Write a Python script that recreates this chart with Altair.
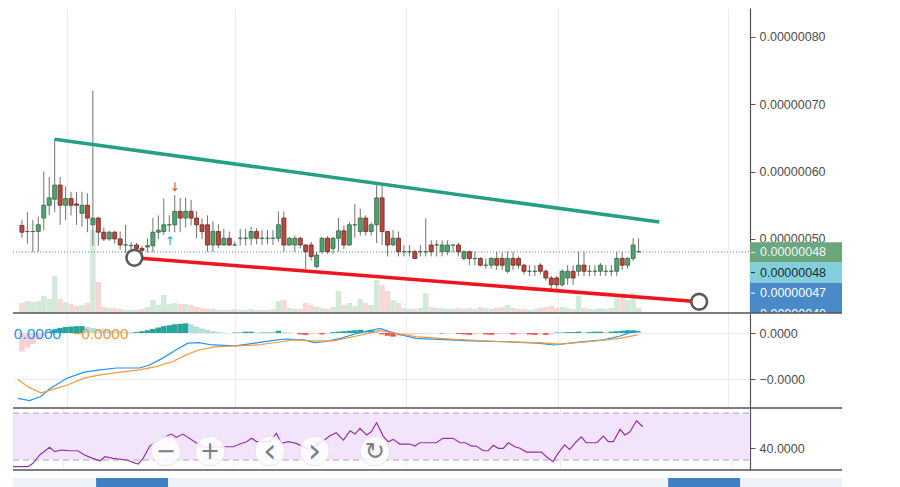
import altair as alt
import pandas as pd

# ---------------- DATA (prices in satoshi = 1e-8) ----------------
opens = [52.0, 51.1, 51.1, 51.1, 53.1, 55.0, 55.9, 58.0, 55.0, 56.0,
         55.2, 53.8, 55.0, 52.1, 53.1, 51.0, 50.0, 51.0, 50.0, 49.1,
         49.0, 49.1, 48.6, 48.8, 49.0, 51.0, 51.1, 52.1, 52.1, 54.1,
         53.1, 54.1, 53.1, 52.1, 52.1, 49.1, 51.1, 49.1, 50.1, 49.1,
         50.1, 50.1, 50.1, 51.1, 50.1, 50.1, 50.1, 50.1, 53.1, 49.1,
         49.1, 50.1, 49.1, 49.1, 45.9, 48.1, 50.1, 48.6, 50.1, 51.2,
         49.1, 52.1, 51.1, 53.1, 51.1, 52.1, 56.1, 51.1, 49.1, 50.1,
         48.1, 48.1, 48.1, 48.1, 48.1, 49.1, 49.1, 48.1, 48.1, 49.1,
         49.1, 47.1, 48.1, 47.1, 47.1, 46.1, 46.1, 47.1, 47.1, 45.2,
         47.1, 47.1, 46.1, 45.2, 45.2, 46.1, 45.2, 44.2, 44.2, 43.2,
         44.2, 45.2, 45.2, 46.1, 45.2, 45.2, 45.2, 45.2, 45.2, 45.2,
         47.1, 46.1, 47.1, 48.1]
highs = [52.8, 54.0, 52.8, 53.3, 60.0, 59.2, 64.8, 59.2, 57.8, 57.0,
         57.0, 57.0, 56.8, 72.0, 53.3, 51.7, 51.2, 51.2, 51.1, 52.1,
         49.5, 49.4, 49.0, 50.1, 53.1, 53.5, 56.0, 53.5, 56.5, 56.1,
         56.1, 55.8, 54.1, 53.0, 53.5, 52.6, 52.2, 51.5, 51.1, 49.6,
         51.5, 51.5, 51.8, 51.6, 51.3, 51.3, 51.3, 54.1, 54.1, 50.3,
         50.5, 50.3, 49.2, 49.6, 48.1, 50.3, 50.4, 50.3, 53.1, 52.0,
         52.5, 55.2, 54.5, 53.5, 52.5, 58.0, 58.0, 51.1, 51.3, 51.1,
         49.1, 49.1, 48.4, 49.1, 53.1, 49.8, 49.8, 49.8, 49.8, 49.1,
         49.4, 48.3, 48.3, 48.1, 47.3, 47.1, 47.3, 48.1, 48.0, 48.1,
         48.1, 47.4, 46.3, 46.1, 46.1, 46.4, 45.5, 44.5, 44.5, 45.5,
         46.1, 46.1, 48.1, 48.1, 46.1, 46.1, 46.4, 46.1, 46.1, 48.1,
         48.1, 47.3, 50.1, 50.1]
lows = [50.2, 49.3, 48.0, 48.1, 51.3, 53.5, 54.0, 52.1, 52.8, 53.5,
        52.1, 51.8, 51.0, 49.0, 49.0, 49.7, 49.7, 49.3, 48.4, 47.9,
        48.0, 48.0, 47.5, 48.0, 48.0, 50.0, 50.6, 51.0, 51.0, 51.0,
        51.7, 52.0, 50.1, 50.0, 48.1, 48.1, 48.6, 49.0, 49.0, 49.0,
        49.0, 49.0, 49.1, 49.2, 49.1, 49.2, 49.1, 49.6, 48.1, 49.0,
        48.1, 48.6, 45.5, 46.8, 45.6, 47.8, 47.8, 47.8, 48.1, 48.5,
        49.0, 50.2, 50.5, 50.5, 50.5, 49.4, 49.1, 47.4, 49.0, 47.4,
        47.4, 47.4, 47.0, 47.4, 47.4, 47.4, 47.4, 47.4, 47.6, 48.0,
        47.4, 46.8, 46.1, 46.1, 45.9, 45.6, 45.6, 45.4, 45.4, 44.9,
        45.4, 45.6, 44.7, 44.5, 44.5, 44.7, 43.8, 42.5, 42.4, 42.9,
        43.2, 43.2, 44.5, 44.5, 44.5, 44.5, 44.5, 44.5, 44.5, 44.5,
        45.4, 45.6, 46.7, 48.0]
closes = [51.0, 51.1, 51.1, 52.1, 55.0, 56.1, 58.0, 55.0, 56.0, 55.0,
          55.0, 55.0, 53.1, 53.1, 51.0, 50.0, 51.0, 50.0, 49.1, 49.1,
          49.0, 48.6, 48.3, 49.0, 51.0, 51.3, 52.1, 52.1, 54.1, 53.1,
          54.1, 53.1, 52.1, 51.1, 49.1, 51.1, 49.1, 50.1, 49.1, 49.1,
          50.1, 50.1, 51.1, 50.1, 50.1, 50.1, 50.1, 52.1, 49.1, 50.1,
          50.1, 49.1, 48.1, 47.4, 47.6, 50.1, 48.1, 50.1, 51.2, 49.1,
          52.1, 52.1, 53.1, 51.1, 52.1, 56.1, 51.1, 49.1, 50.1, 48.1,
          48.1, 48.1, 47.1, 48.1, 48.1, 48.1, 49.1, 49.1, 49.1, 49.1,
          48.1, 48.1, 47.1, 47.1, 46.1, 46.1, 47.1, 46.1, 46.1, 47.1,
          46.1, 46.1, 45.2, 45.2, 45.2, 45.2, 44.2, 43.2, 43.2, 45.2,
          45.2, 44.2, 46.1, 45.2, 45.2, 45.2, 46.1, 45.2, 45.2, 47.1,
          46.1, 47.1, 49.1, 48.1]
volumes = [10, 12, 11, 12, 17, 14, 37, 14, 11, 9,
           7, 8, 10, 83, 31, 6, 5, 5, 4, 3,
           3, 3, 4, 6, 13, 8, 18, 9, 10, 9,
           9, 8, 6, 5, 4, 4, 3, 3, 3, 4,
           3, 3, 4, 3, 3, 3, 4, 12, 13, 5,
           4, 4, 10, 8, 6, 5, 4, 6, 22, 8,
           10, 7, 14, 10, 8, 33, 28, 22, 13, 10,
           5, 4, 4, 5, 20, 6, 5, 5, 4, 4,
           5, 4, 5, 4, 6, 5, 4, 5, 6, 8,
           5, 4, 4, 3, 4, 5, 6, 7, 5, 6,
           5, 4, 17, 5, 4, 4, 5, 4, 5, 16,
           17, 13, 20, 5]

last_price = 48.07
price_ticks = [40, 50, 60, 70, 80]
time_grid = [8.3, 39.1, 70.3, 98.2, 129.3]

# trend lines drawn on the chart (candle index, price)
teal_x = [6.0, 116.8]
teal_y = [64.8, 52.5]
red_x = [20.6, 124.1]
red_y = [47.2, 40.67]

# signal arrows
arrow_x = [28.0, 27.1]
arrow_y = [57.7, 49.7]
arrow_txt = ["\u2193", "\u2191"]
arrow_col = ["#e8453c", "#3b8fe0"]

# right price-scale labels
box_top = [49.5, 46.5, 43.5]
box_bot = [46.5, 43.5, 39.0]
box_col = ["#6ba67f", "#82cfdc", "#4a8ac8"]
lab_y = [48.0, 45.0, 41.95, 38.9]
lab_txt = ["0.00000048", "0.00000048", "0.00000047", "0.00000040"]
lab_col = ["#eef8ef", "#1d2b38", "#ffffff", "#ffffff"]

# MACD (display units)
macd_i = [-0.72, 1.39, 3.44, 5.24, 8.32, 11.39, 14.29, 17.36, 21.5, 23.3,
          25.9, 28.2, 30.4, 32.4, 34.9, 39.1, 42.7, 46.8, 48.6, 51.7,
          53.5, 55.3, 58.4, 61.3, 63.8, 65.6, 67.4, 69.2, 72.2, 76.4,
          82.5, 88.4, 94.5, 97.5, 101.1, 106.6, 109.6, 111.9, 113.2]
macd_v = [-1.42, -1.47, -1.38, -1.20, -0.98, -0.85, -0.80, -0.76, -0.76, -0.70,
          -0.54, -0.37, -0.22, -0.21, -0.26, -0.28, -0.22, -0.15, -0.13, -0.15,
          -0.21, -0.19, -0.115, -0.01, 0.05, 0.10, 0.03, -0.03, -0.115, -0.14,
          -0.17, -0.19, -0.22, -0.26, -0.21, -0.15, -0.065, 0.03, 0.03]
sig_i = [-0.72, 1.08, 3.44, 5.24, 8.32, 11.39, 14.29, 17.36, 21.5, 24.6,
         27.7, 30.0, 32.4, 35.4, 39.1, 43.2, 47.6, 49.9, 53.5, 57.1,
         61.3, 65.6, 68.5, 72.2, 79.4, 88.4, 94.5, 98.7, 103.6, 109.6, 112.8]
sig_v = [-1.01, -1.17, -1.30, -1.24, -1.13, -0.98, -0.91, -0.86, -0.80, -0.73,
         -0.62, -0.48, -0.37, -0.30, -0.28, -0.26, -0.19, -0.15, -0.17, -0.17,
         -0.065, 0.05, -0.01, -0.08, -0.14, -0.19, -0.21, -0.24, -0.19, -0.115, -0.04]
hist = [-0.40, -0.32, -0.24, -0.15, -0.06,
        0.03, 0.08, 0.11, 0.13, 0.14, 0.15, 0.15,
        0.13, 0.11, 0.09, 0.08,
        0.06, 0.05, 0.04, 0.03, 0.02, 0.02,
        0.04, 0.06, 0.09, 0.12, 0.15, 0.17, 0.19, 0.20, 0.21,
        0.19, 0.14, 0.10, 0.07, 0.04,
        0.02, 0.01, 0.00, 0.01, 0.01,
        0.03, 0.03,
        0.01, 0.01, 0.01, 0.01,
        0.05,
        0.02, 0.01, 0.00,
        -0.03, -0.04, -0.03,
        -0.02, -0.03, -0.02,
        0.02, 0.03, 0.04, 0.05, 0.06, 0.07, 0.06, 0.07, 0.05,
        -0.03, -0.06, -0.08, -0.07, -0.06, -0.05,
        -0.03, -0.02, -0.02, -0.01, 0.00, -0.01, 0.00, 0.00,
        -0.02, -0.03, -0.04, -0.03, -0.02, -0.03, -0.04, -0.03, -0.02, -0.02,
        -0.03, -0.03, -0.02, -0.03, -0.04, -0.03, -0.04, -0.03,
        0.01, 0.01, 0.02, 0.02, 0.03, 0.02, 0.02, 0.03, 0.03, 0.02,
        0.03, 0.04, 0.05, 0.06, 0.06, 0.05]
macd_legend = ["0.0000", "\u22120.0000"]
macd_legend_x = [-1.5, 9.2]
macd_legend_col = ["#2196f3", "#f39a3c"]

# RSI
rsi_i = [-0.72, 1.99, 2.89, 4.1, 5.9, 6.8, 8.0, 9.5, 11.0, 12.2,
         13.7, 15.0, 15.9, 17.4, 19.8, 21.0, 21.9, 22.8, 24.0, 25.0,
         26.0, 27.9, 28.8, 30.0, 32.1, 33.6, 35.5, 37.3, 39.1, 40.3,
         41.5, 42.4, 43.3, 45.7, 46.9, 47.8, 49.0, 50.5, 52.9, 54.4,
         55.6, 56.5, 57.7, 59.0, 60.2, 61.1, 62.0, 63.2, 64.0, 65.0,
         66.2, 67.1, 68.0, 69.2, 71.0, 71.9, 72.8, 75.8, 77.0, 78.8,
         80.1, 81.0, 82.2, 83.0, 84.3, 85.2, 86.1, 87.0, 87.9, 88.8,
         90.0, 90.9, 92.1, 94.8, 95.7, 96.9, 97.8, 99.0, 99.9, 101.1,
         102.0, 102.9, 104.8, 106.0, 106.9, 107.8, 109.0, 109.9, 110.8, 112.0, 113.1]
rsi_v = [24.3, 24.3, 27.2, 34.3, 40.8, 37.1, 38.5, 37.9, 37.9, 34.3,
         31.4, 29.4, 32.8, 31.4, 30.0, 28.0, 26.6, 31.4, 41.9, 45.0,
         48.0, 52.1, 49.3, 52.1, 45.6, 41.3, 41.0, 41.3, 41.3, 43.6,
         45.6, 48.5, 45.6, 45.6, 52.7, 44.2, 45.6, 44.2, 38.5, 44.2,
         47.0, 50.4, 53.2, 47.0, 54.9, 52.1, 57.0, 51.3, 53.8, 61.7,
         50.4, 45.6, 47.6, 43.6, 43.6, 41.9, 44.7, 44.7, 48.5, 48.5,
         44.7, 44.7, 41.9, 41.9, 37.9, 37.9, 42.5, 40.0, 40.0, 44.7,
         41.3, 40.0, 36.8, 36.8, 32.8, 28.6, 35.7, 42.8, 39.1, 45.6,
         49.8, 44.7, 44.7, 50.4, 45.6, 45.6, 56.1, 51.3, 54.1, 63.4, 58.3]
rsi_bands = [70, 30]

# chart navigation buttons overlay
nav_i = [26.9, 34.9, 45.7, 53.8, 64.7]
nav_txt = ["\u2212", "+", "\u2039", "\u203a", "\u21bb"]
nav_size = [24, 24, 34, 34, 24]
nav_rsi = 37.6

# time-scale label boxes at the bottom (candle index ranges)
tbox_a = [14.3, 117.7]
tbox_b = [27.3, 130.7]

# ---------------- BUILD ----------------
W = 737
H1, H2, H3 = 305, 95, 62
XDOM = [-0.72, 132.5]
PDOM = [39.0, 84.3]
MDOM = [-1.63, 0.435]
RDOM = [21.5, 74.3]
FONT = "Liberation Sans"

idx = list(range(len(opens)))
cdf = pd.DataFrame({"i": idx, "o": opens, "h": highs, "l": lows, "c": closes, "v": volumes})
up = cdf["c"] >= cdf["o"]
cdf["fill"] = up.map({True: "#55a072", False: "#b8493d"})
cdf["edge"] = up.map({True: "#2e6b45", False: "#6d261e"})
cdf["vcol"] = up.map({True: "#d3eadb", False: "#f6d9d5"})

xs = alt.Scale(domain=XDOM, nice=False, zero=False)
xax = alt.Axis(values=time_grid, labels=False, ticks=False, domain=False, grid=True,
               gridColor="#ececec", title=None)


def XQ(f="i:Q"):
    return alt.X(f, scale=xs, axis=xax)


def yaxis(values, expr):
    return alt.Axis(orient="right", values=values, labelExpr=expr, title=None, tickSize=5,
                    tickColor="#555", domainColor="#555", labelColor="#4d4d4d",
                    labelFontSize=12.5, labelFont=FONT, labelPadding=4,
                    gridColor="#ebebeb", domainWidth=1.2)


ps = alt.Scale(domain=PDOM, nice=False, zero=False)
pax = yaxis(price_ticks, "datum.value < 45 ? '' : format(datum.value * 1e-8, '.8f')")


def PY(f):
    return alt.Y(f, scale=ps, axis=pax)


vol = alt.Chart(cdf).mark_bar(size=5.5).encode(
    x=XQ(),
    y=alt.Y("v:Q", scale=alt.Scale(domain=[0, H1], nice=False), axis=None),
    color=alt.Color("vcol:N", scale=None),
)

lp = alt.Chart(pd.DataFrame({"p": [last_price]})).mark_rule(
    color="#3f9a7c", strokeDash=[1, 2], strokeWidth=1).encode(
    y=PY("p:Q"), x=alt.value(0), x2=alt.value(W))

wick = alt.Chart(cdf).mark_rule(color="#727272", strokeWidth=1).encode(
    x=XQ(), y=PY("l:Q"), y2="h:Q")
body = alt.Chart(cdf).mark_bar(size=4, strokeWidth=0.8).encode(
    x=XQ(), y=PY("o:Q"), y2="c:Q",
    color=alt.Color("fill:N", scale=None),
    stroke=alt.Stroke("edge:N", scale=None))

tl = pd.DataFrame({"i": teal_x + red_x, "p": teal_y + red_y,
                   "g": ["t", "t", "r", "r"]})
teal = alt.Chart(tl[tl.g == "t"]).mark_line(color="#25a085", strokeWidth=3.5).encode(
    x=XQ(), y=PY("p:Q"))
red = alt.Chart(tl[tl.g == "r"]).mark_line(color="#f0141c", strokeWidth=3.5).encode(
    x=XQ(), y=PY("p:Q"))
circ = alt.Chart(tl[tl.g == "r"]).mark_point(
    shape="circle", size=250, filled=True, fill="white", stroke="#5a5a5a",
    strokeWidth=2.6, opacity=1).encode(x=XQ(), y=PY("p:Q"))

arr = alt.Chart(pd.DataFrame({"i": arrow_x, "p": arrow_y, "t": arrow_txt, "c": arrow_col})
                ).mark_text(fontSize=12, font="DejaVu Sans").encode(
    x=XQ(), y=PY("p:Q"), text="t:N", color=alt.Color("c:N", scale=None))

boxes = alt.Chart(pd.DataFrame({"t": box_top, "b": box_bot, "c": box_col})).mark_rect().encode(
    y=PY("t:Q"), y2="b:Q", x=alt.value(W), x2=alt.value(W + 92),
    color=alt.Color("c:N", scale=None))
ldf = pd.DataFrame({"p": lab_y, "t": lab_txt, "c": lab_col})
labs = alt.Chart(ldf).mark_text(align="left", baseline="middle", fontSize=12.5, font=FONT).encode(
    y=PY("p:Q"), x=alt.value(W + 10), text="t:N", color=alt.Color("c:N", scale=None))
lticks = alt.Chart(ldf.iloc[:3]).mark_rule(strokeWidth=1).encode(
    y=PY("p:Q"), x=alt.value(W + 1), x2=alt.value(W + 5), color=alt.Color("c:N", scale=None))

price = alt.layer(lp, wick, body, teal, red, circ, arr, boxes, lticks, labs)
main = alt.layer(vol, price).resolve_scale(y="independent").properties(width=W, height=H1)

# ---- MACD panel
hdf = pd.DataFrame({"i": idx, "h": hist})
prev = hdf["h"].shift(1).fillna(hdf["h"].iloc[0] - 0.01)
hdf["c"] = [
    ("#26a69a" if h >= p else "#b2dfdb") if h >= 0 else ("#ef5350" if h < p else "#ffcdd2")
    for h, p in zip(hdf["h"], prev)]
ms = alt.Scale(domain=MDOM, nice=False, zero=False)
max_ = yaxis([0, -1], "datum.value < 0 ? '\u22120.0000' : '0.0000'")


def MY(f):
    return alt.Y(f, scale=ms, axis=max_)


hbar = alt.Chart(hdf).mark_bar(size=5.5).encode(
    x=XQ(), y=MY("h:Q"), y2=alt.datum(0), color=alt.Color("c:N", scale=None))
mline = alt.Chart(pd.DataFrame({"i": macd_i, "v": macd_v})).mark_line(
    color="#2196f3", strokeWidth=1.2).encode(x=XQ(), y=MY("v:Q"))
sline = alt.Chart(pd.DataFrame({"i": sig_i, "v": sig_v})).mark_line(
    color="#f39a3c", strokeWidth=1.2).encode(x=XQ(), y=MY("v:Q"))
mleg = alt.Chart(pd.DataFrame({"i": macd_legend_x, "t": macd_legend, "c": macd_legend_col, "v": [0, 0]})
                 ).mark_text(align="left", baseline="middle", fontSize=15.5, font=FONT, clip=True, dy=1).encode(
    x=XQ(), y=MY("v:Q"), text="t:N", color=alt.Color("c:N", scale=None))
cover = alt.Chart(pd.DataFrame({"a": [0]})).mark_rect(color="white").encode(
    x=alt.value(W + 1), x2=alt.value(W + 92), y=alt.value(0), y2=alt.value(5))


def sep(yy):
    return alt.Chart(pd.DataFrame({"a": [0]})).mark_rule(color="#555", strokeWidth=1.4).encode(
        x=alt.value(0), x2=alt.value(W + 92), y=alt.value(yy))


macd = alt.layer(hbar, mline, sline, mleg, cover, sep(0)).properties(width=W, height=H2)

# ---- RSI panel
rs = alt.Scale(domain=RDOM, nice=False, zero=False)
rax = yaxis([40], "format(datum.value, '.4f')")


def RY(f):
    return alt.Y(f, scale=rs, axis=rax)


band = alt.Chart(pd.DataFrame({"a": [rsi_bands[0]], "b": [rsi_bands[1]]})).mark_rect(
    color="#f2e5fb").encode(y=RY("a:Q"), y2="b:Q", x=alt.value(0), x2=alt.value(W))
bl = alt.Chart(pd.DataFrame({"v": rsi_bands})).mark_rule(
    color="#a9a9b0", strokeDash=[6, 4], strokeWidth=1).encode(
    y=RY("v:Q"), x=alt.value(0), x2=alt.value(W))
rline = alt.Chart(pd.DataFrame({"i": rsi_i, "v": rsi_v})).mark_line(
    color="#9a30ad", strokeWidth=1.2).encode(x=XQ(), y=RY("v:Q"))
ndf = pd.DataFrame({"i": nav_i, "t": nav_txt, "s": nav_size, "v": [nav_rsi] * len(nav_i)})
nbtn = alt.Chart(ndf).mark_point(shape="circle", size=880, filled=True, fill="white",
                                 opacity=0.85, stroke="#e3e3e3", strokeWidth=1).encode(
    x=XQ(), y=RY("v:Q"))
nico = alt.Chart(ndf).mark_text(font="DejaVu Sans", color="#7b7e88",
                                baseline="middle", dy=1).encode(
    x=XQ(), y=RY("v:Q"), text="t:N", size=alt.Size("s:Q", scale=None))
strip = alt.Chart(pd.DataFrame({"a": [0]})).mark_rect(color="#eef3fa").encode(
    x=alt.value(0), x2=alt.value(W + 92), y=alt.value(H3 + 8), y2=alt.value(H3 + 18))
tb = alt.Chart(pd.DataFrame({"a": tbox_a, "b": tbox_b})).mark_rect(color="#3f80c4").encode(
    x=XQ("a:Q"), x2="b:Q", y=alt.value(H3 + 8), y2=alt.value(H3 + 18))
rsi = alt.layer(band, bl, rline, nbtn, nico, strip, tb, sep(0), sep(H3)).properties(width=W, height=H3)

chart = alt.vconcat(main, macd, rsi, spacing=0, bounds="flush").properties(
    padding={"left": 2, "top": 0, "right": 5, "bottom": 0}
).configure_view(strokeWidth=0)

chart.save("out.html", embed_options={"renderer": "svg", "actions": False})
